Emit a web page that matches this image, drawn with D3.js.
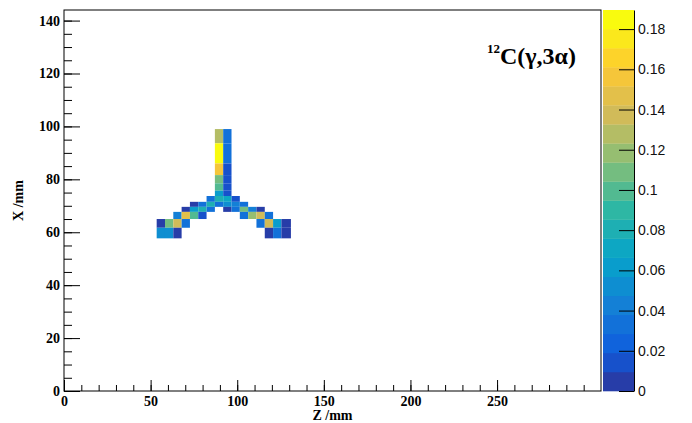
<!DOCTYPE html>
<html>
<head>
<meta charset="utf-8">
<script src="https://cdn.jsdelivr.net/npm/d3@7"></script>
<style>
  html, body { margin: 0; padding: 0; background: #fff; }
  svg { display: block; }
  .axis text { font-family: "Liberation Serif", "Times New Roman", serif; font-weight: bold; font-size: 14px; fill: #000; }
  .axis line, .axis path { stroke: #000; }
  .zaxis text { font-family: "Liberation Sans", Arial, sans-serif; font-size: 14px; fill: #111; }
  .zaxis line, .zaxis path { stroke: #000; }
</style>
</head>
<body>
<div id="chart"></div>
<script>
//////////////////////////////////////////////////////////////////
// Data
//////////////////////////////////////////////////////////////////
// Z bin edges (mm) of the columns that carry content
const zEdges = [53.5, 58.3, 63.1, 67.9, 72.7, 77.5, 82.3, 87.1, 91.9, 96.7,
                101.5, 106.3, 111.1, 115.9, 120.7, 125.5, 131.0];
// X bin edges (mm), top row first
const xEdges = [99.0, 93.6, 86.0, 81.6, 78.5, 75.7, 73.7, 71.5, 69.6, 67.7, 65.0, 61.7, 57.7];

// filled cells: [column, row, content]
const cells = [
  [7, 0, 0.128], [8, 0, 0.030],
  [7, 1, 0.187], [8, 1, 0.030],
  [7, 2, 0.160], [8, 2, 0.018],
  [7, 3, 0.108], [8, 3, 0.018],
  [7, 4, 0.095], [8, 4, 0.018],
  [7, 5, 0.065], [8, 5, 0.018],
  [6, 6, 0.030], [7, 6, 0.078], [8, 6, 0.070], [9, 6, 0.018],
  [4, 7, 0.006], [5, 7, 0.035], [6, 7, 0.080], [7, 7, 0.035], [8, 7, 0.055], [9, 7, 0.045], [10, 7, 0.030],
  [3, 8, 0.006], [4, 8, 0.060], [5, 8, 0.078], [6, 8, 0.030],
  [8, 8, 0.006], [9, 8, 0.030], [10, 8, 0.108], [11, 8, 0.045], [12, 8, 0.006],
  [2, 9, 0.040], [3, 9, 0.150], [4, 9, 0.100], [5, 9, 0.015],
  [10, 9, 0.030], [11, 9, 0.120], [12, 9, 0.140], [13, 9, 0.035],
  [0, 10, 0.006], [1, 10, 0.110], [2, 10, 0.140], [3, 10, 0.035],
  [12, 10, 0.035], [13, 10, 0.140], [14, 10, 0.065], [15, 10, 0.006],
  [0, 11, 0.055], [1, 11, 0.055], [2, 11, 0.006],
  [13, 11, 0.006], [14, 11, 0.030], [15, 11, 0.006]
];

const zTicks = [0, 50, 100, 150, 200, 250];
const xTicks = [0, 20, 40, 60, 80, 100, 120, 140];
const colTicks = [0, 0.02, 0.04, 0.06, 0.08, 0.1, 0.12, 0.14, 0.16, 0.18];
const zMax = 0.1895;   // top of the colour scale
const nContours = 20;

//////////////////////////////////////////////////////////////////
// Bird palette (ROOT kBird)
//////////////////////////////////////////////////////////////////
const birdStops = [0.0, 0.125, 0.25, 0.375, 0.5, 0.625, 0.75, 0.875, 1.0];
const birdR = [0.2082, 0.0592, 0.0780, 0.0232, 0.1802, 0.5301, 0.8186, 0.9956, 0.9764];
const birdG = [0.1664, 0.3599, 0.5041, 0.6419, 0.7178, 0.7492, 0.7328, 0.7862, 0.9832];
const birdB = [0.5293, 0.8684, 0.8385, 0.7914, 0.6425, 0.4662, 0.3499, 0.1968, 0.0539];

const bird = d3.scaleLinear()
  .domain(birdStops)
  .range(birdStops.map((s, i) => d3.rgb(birdR[i] * 255, birdG[i] * 255, birdB[i] * 255)))
  .interpolate(d3.interpolateRgb);

function bandColor(i) {
  // same index rule ROOT uses to pick a colour for contour i
  const idx = Math.floor((i + 0.99) * 255 / nContours);
  return bird(Math.min(idx, 254) / 254);
}

function valueColor(v) {
  let band = Math.floor(v / (zMax / nContours));
  band = Math.max(0, Math.min(nContours - 1, band));
  return bandColor(band);
}

//////////////////////////////////////////////////////////////////
// Chart
//////////////////////////////////////////////////////////////////
const W = 692, H = 423;
const frame = { left: 64, right: 601, top: 10, bottom: 391 };

const svg = d3.select("#chart").append("svg")
  .attr("width", W)
  .attr("height", H);

const x = d3.scaleLinear().domain([0, 310]).range([frame.left, frame.right]);
const y = d3.scaleLinear().domain([0, 144]).range([frame.bottom, frame.top]);

// cells
svg.append("g").selectAll("rect")
  .data(cells)
  .enter()
  .append("rect")
  .attr("x", d => x(zEdges[d[0]]))
  .attr("width", d => x(zEdges[d[0] + 1]) - x(zEdges[d[0]]))
  .attr("y", d => y(xEdges[d[1]]))
  .attr("height", d => y(xEdges[d[1] + 1]) - y(xEdges[d[1]]))
  .attr("fill", d => valueColor(d[2]));

// minor ticks
svg.append("g")
  .attr("class", "axis")
  .attr("transform", `translate(0,${frame.bottom})`)
  .call(d3.axisBottom(x).tickValues(d3.range(0, 310, 10)).tickFormat("").tickSize(-6))
  .call(g => g.select(".domain").remove());

svg.append("g")
  .attr("class", "axis")
  .attr("transform", `translate(${frame.left},0)`)
  .call(d3.axisLeft(y).tickValues(d3.range(0, 145, 5)).tickFormat("").tickSize(-8))
  .call(g => g.select(".domain").remove());

// major ticks + labels
svg.append("g")
  .attr("class", "axis")
  .attr("transform", `translate(0,${frame.bottom})`)
  .call(d3.axisBottom(x).tickValues(zTicks).tickFormat(d3.format("d")).tickSize(-11).tickPadding(5))
  .call(g => g.select(".domain").remove());

svg.append("g")
  .attr("class", "axis")
  .attr("transform", `translate(${frame.left},0)`)
  .call(d3.axisLeft(y).tickValues(xTicks).tickFormat(d3.format("d")).tickSize(-16).tickPadding(4))
  .call(g => g.select(".domain").remove());

// frame
svg.append("rect")
  .attr("x", frame.left)
  .attr("y", frame.top)
  .attr("width", frame.right - frame.left)
  .attr("height", frame.bottom - frame.top)
  .attr("fill", "none")
  .attr("stroke", "#000")
  .attr("stroke-width", 1);

// axis titles
svg.append("text")
  .attr("x", (frame.left + frame.right) / 2)
  .attr("y", 420)
  .attr("text-anchor", "middle")
  .style("font-family", "'Liberation Serif', serif")
  .style("font-weight", "bold")
  .style("font-size", "14px")
  .text("Z /mm");

svg.append("text")
  .attr("transform", `translate(23,${(frame.top + frame.bottom) / 2}) rotate(-90)`)
  .attr("text-anchor", "middle")
  .style("font-family", "'Liberation Serif', serif")
  .style("font-weight", "bold")
  .style("font-size", "14px")
  .text("X /mm");

// title label
const title = svg.append("text")
  .attr("x", 487)
  .attr("y", 64)
  .style("font-family", "'Liberation Serif', serif")
  .style("font-weight", "bold");
title.append("tspan").attr("dy", -11).style("font-size", "13px").text("12");
title.append("tspan").attr("dy", 11).style("font-size", "24px").text("C(γ,3α)");

//////////////////////////////////////////////////////////////////
// Colour bar
//////////////////////////////////////////////////////////////////
const bar = { left: 603, right: 634 };
const zScale = d3.scaleLinear().domain([0, zMax]).range([frame.bottom, frame.top]);
const bandStep = zMax / nContours;

svg.append("g").selectAll("rect")
  .data(d3.range(nContours))
  .enter()
  .append("rect")
  .attr("x", bar.left)
  .attr("width", bar.right - bar.left)
  .attr("y", i => zScale((i + 1) * bandStep))
  .attr("height", i => zScale(i * bandStep) - zScale((i + 1) * bandStep) + 0.3)
  .attr("fill", i => bandColor(i));

svg.append("g")
  .attr("class", "zaxis")
  .attr("transform", `translate(${bar.right},0)`)
  .call(d3.axisRight(zScale).tickValues(colTicks).tickFormat(d => String(+d.toFixed(2))).tickSize(-15).tickPadding(4).tickSizeOuter(0));
</script>
</body>
</html>
